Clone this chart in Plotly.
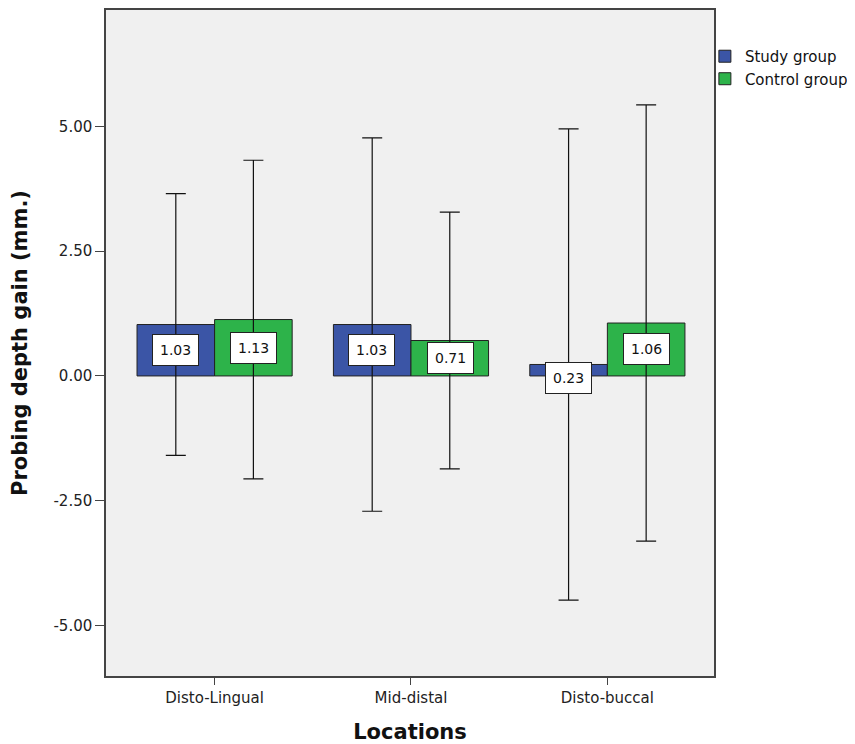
import plotly.graph_objects as go

locations = ["Disto-Lingual", "Mid-distal", "Disto-buccal"]
study_mean = [1.03, 1.03, 0.23]
control_mean = [1.13, 0.71, 1.06]
study_err = [2.62, 3.74, 4.72]
control_err = [3.19, 2.57, 4.37]
y_ticks = [-5.0, -2.5, 0.0, 2.5, 5.0]
y_tick_text = ["-5.00", "-2.50", "0.00", "2.50", "5.00"]

STUDY_COLOR = "#3B55A6"
CONTROL_COLOR = "#2DB34A"
FONT = "DejaVu Sans"

fig = go.Figure()
fig.add_trace(go.Bar(
    name="Study group", x=locations, y=study_mean,
    marker=dict(color=STUDY_COLOR, line=dict(color="#222222", width=1)),
    error_y=dict(type="data", array=study_err, visible=True, color="#111111", thickness=1.2, width=10),
))
fig.add_trace(go.Bar(
    name="Control group", x=locations, y=control_mean,
    marker=dict(color=CONTROL_COLOR, line=dict(color="#222222", width=1)),
    error_y=dict(type="data", array=control_err, visible=True, color="#111111", thickness=1.2, width=10),
))

# value labels in white boxes
offsets = [-0.2, 0.2]
for series, off in zip([study_mean, control_mean], offsets):
    for i, v in enumerate(series):
        ypos = v / 2 if v > 0.6 else v / 2 - 0.15
        fig.add_annotation(
            x=i + off, y=ypos, xref="x", yref="y",
            text=f"{v:.2f}", showarrow=False,
            font=dict(family=FONT, size=14, color="#111111"),
            bgcolor="white", bordercolor="#222222", borderwidth=1, borderpad=7,
        )

# page body adds an 8px offset, so the figure is 8px smaller and margins compensate
fig.update_layout(
    width=847, height=736,
    margin=dict(l=98, r=137, t=2, b=68),
    paper_bgcolor="white", plot_bgcolor="#F0F0F0",
    barmode="group", bargap=0.21, bargroupgap=0,
    font=dict(family=FONT, size=15, color="#222222"),
    showlegend=True,
    legend=dict(x=0.985, y=0.955, xanchor="left", yanchor="top",
                font=dict(family=FONT, size=15, color="#111111"),
                bgcolor="rgba(0,0,0,0)", tracegroupgap=0, itemwidth=30),
)
fig.update_xaxes(
    type="category", range=[-0.553, 2.543], automargin=False,
    showline=True, linecolor="#444444", linewidth=1.5, mirror=True,
    ticks="outside", ticklen=7, tickcolor="#444444",
    showgrid=False, zeroline=False,
    tickfont=dict(family=FONT, size=15, color="#222222"),
    title=dict(text="<b>Locations</b>", font=dict(family=FONT, size=21, color="#111111"), standoff=19),
)
fig.update_yaxes(
    range=[-6.01, 7.33], tickvals=y_ticks, ticktext=y_tick_text, automargin=False,
    showline=True, linecolor="#444444", linewidth=1.5, mirror=True,
    ticks="outside", ticklen=9, tickcolor="#444444",
    showgrid=False, zeroline=False,
    tickfont=dict(family=FONT, size=15, color="#222222"),
    title=dict(text="<b>Probing depth gain (mm.)</b>", font=dict(family=FONT, size=21, color="#111111"), standoff=21),
)

fig.write_html("out.html")
